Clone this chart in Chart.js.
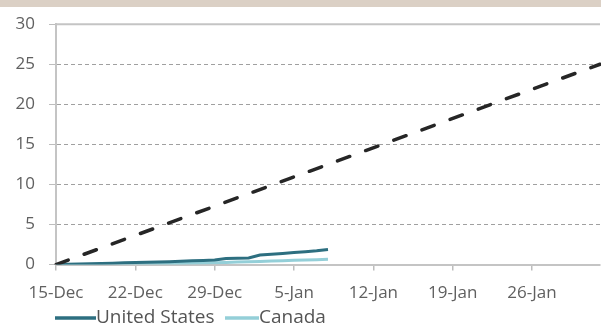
<!DOCTYPE html>
<html>
<head>
<meta charset="utf-8">
<script src="https://cdn.jsdelivr.net/npm/chart.js@4.4.1/dist/chart.umd.min.js"></script>
<style>
  html, body { margin: 0; padding: 0; background: #fff; }
  #wrap { position: relative; width: 601px; height: 326px; }
  #band { position: absolute; left: 0; top: 0; width: 601px; height: 7px; background: #dbd0c5; z-index: 2; }
  canvas { position: absolute; left: 0; top: 0; }
</style>
</head>
<body>
<div id="wrap">
  <div id="band"></div>
  <canvas id="c" width="601" height="326"></canvas>
</div>
<script>
// Daily dates, 15 Dec to 1 Feb
const days = [
  '15-Dec','16-Dec','17-Dec','18-Dec','19-Dec','20-Dec','21-Dec',
  '22-Dec','23-Dec','24-Dec','25-Dec','26-Dec','27-Dec','28-Dec',
  '29-Dec','30-Dec','31-Dec','1-Jan','2-Jan','3-Jan','4-Jan',
  '5-Jan','6-Jan','7-Jan','8-Jan','9-Jan','10-Jan','11-Jan',
  '12-Jan','13-Jan','14-Jan','15-Jan','16-Jan','17-Jan','18-Jan',
  '19-Jan','20-Jan','21-Jan','22-Jan','23-Jan','24-Jan','25-Jan',
  '26-Jan','27-Jan','28-Jan','29-Jan','30-Jan','31-Jan','1-Feb'
];
// Dates that carry an axis label
const tickLabels = ['15-Dec','22-Dec','29-Dec','5-Jan','12-Jan','19-Jan','26-Jan'];

// Cumulative doses (millions)
const unitedStates = [0, 0.03, 0.06, 0.1, 0.14, 0.18, 0.22, 0.26, 0.3, 0.33, 0.37, 0.42, 0.47,
  0.52, 0.57, 0.75, 0.78, 0.82, 1.2, 1.3, 1.4, 1.5, 1.6, 1.72, 1.88];
const canada = [0, 0, 0, 0.01, 0.02, 0.03, 0.04, 0.05, 0.07, 0.09, 0.11, 0.14, 0.17,
  0.2, 0.23, 0.27, 0.31, 0.35, 0.4, 0.44, 0.48, 0.53, 0.57, 0.61, 0.66];
// Required pace: start and end points
const paceStart = 0;
const paceEnd = 25;

const yTicks = [0, 5, 10, 15, 20, 25, 30];

const pace = days.map((d, i) => i === 0 ? paceStart : (i === days.length - 1 ? paceEnd : null));

const US_COLOR = '#2d6f80';
const CA_COLOR = '#94cfd8';
const FONT = '"Open Sans", sans-serif';

// Legend drawn as a line sample followed directly by the label
const lineLegend = {
  id: 'lineLegend',
  afterDraw(chart) {
    const ctx = chart.ctx;
    const items = [
      { label: chart.data.datasets[0].label, color: US_COLOR, x: 55, w: 41 },
      { label: chart.data.datasets[1].label, color: CA_COLOR, x: 225, w: 34 }
    ];
    const y = 318;
    ctx.save();
    ctx.font = '19px ' + FONT;
    ctx.textBaseline = 'middle';
    items.forEach(it => {
      ctx.strokeStyle = it.color;
      ctx.lineWidth = 3.5;
      ctx.beginPath();
      ctx.moveTo(it.x, y);
      ctx.lineTo(it.x + it.w, y);
      ctx.stroke();
      ctx.fillStyle = '#555';
      ctx.fillText(it.label, it.x + it.w, y);
    });
    ctx.restore();
  }
};

// Solid frame line along the top value
const topLine = {
  id: 'topLine',
  beforeDatasetsDraw(chart) {
    const { ctx, chartArea, scales } = chart;
    const y = scales.y.getPixelForValue(30);
    ctx.save();
    ctx.strokeStyle = '#c4c4c4';
    ctx.lineWidth = 2;
    ctx.beginPath();
    ctx.moveTo(chartArea.left, y);
    ctx.lineTo(chartArea.right, y);
    ctx.stroke();
    ctx.restore();
  }
};

new Chart(document.getElementById('c'), {
  type: 'line',
  data: {
    labels: days,
    datasets: [
      { label: 'United States', data: unitedStates, borderColor: US_COLOR, borderWidth: 3,
        pointRadius: 0, tension: 0, order: 1 },
      { label: 'Canada', data: canada, borderColor: CA_COLOR, borderWidth: 3,
        pointRadius: 0, tension: 0, order: 2 },
      { label: 'Required pace', data: pace, borderColor: '#262626', borderWidth: 3.5,
        borderDash: [13, 17], borderCapStyle: 'round', spanGaps: true,
        pointRadius: 0, tension: 0, order: 0 }
    ]
  },
  options: {
    responsive: false,
    animation: false,
    layout: { padding: { left: 0, right: 1, top: 20, bottom: 11 } },
    plugins: { legend: { display: false }, tooltip: { enabled: false } },
    scales: {
      x: {
        type: 'category',
        offset: false,
        afterFit: s => { s.paddingRight = 0; },
        grid: {
          drawOnChartArea: false,
          drawTicks: true,
          tickLength: 6,
          color: ctx => (ctx.tick && tickLabels.includes(ctx.tick.label)) ? '#bdbdbd' : 'rgba(0,0,0,0)',
          lineWidth: 1.5
        },
        border: { display: true, color: '#c4c4c4', width: 2 },
        ticks: {
          autoSkip: false,
          maxRotation: 0,
          padding: 12,
          color: '#606060',
          font: { family: FONT, size: 17 },
          callback: function (val) {
            const l = this.getLabelForValue(val);
            return tickLabels.includes(l) ? l : '';
          }
        }
      },
      y: {
        min: 0,
        max: 30,
        afterFit: s => { s.width = 56; },
        afterBuildTicks: s => { s.ticks = yTicks.map(v => ({ value: v })); },
        grid: {
          drawTicks: true,
          tickLength: 7,
          color: ctx => (ctx.tick && (ctx.tick.value === 0 || ctx.tick.value === 30)) ? 'rgba(0,0,0,0)' : '#a0a0a0',
          tickColor: '#bdbdbd',
          lineWidth: 1
        },
        border: { display: true, color: '#c4c4c4', width: 2, dash: [4, 3] },
        ticks: {
          padding: 14,
          color: '#606060',
          font: { family: FONT, size: 17 }
        }
      }
    }
  },
  plugins: [topLine, lineLegend]
});
</script>
</body>
</html>
